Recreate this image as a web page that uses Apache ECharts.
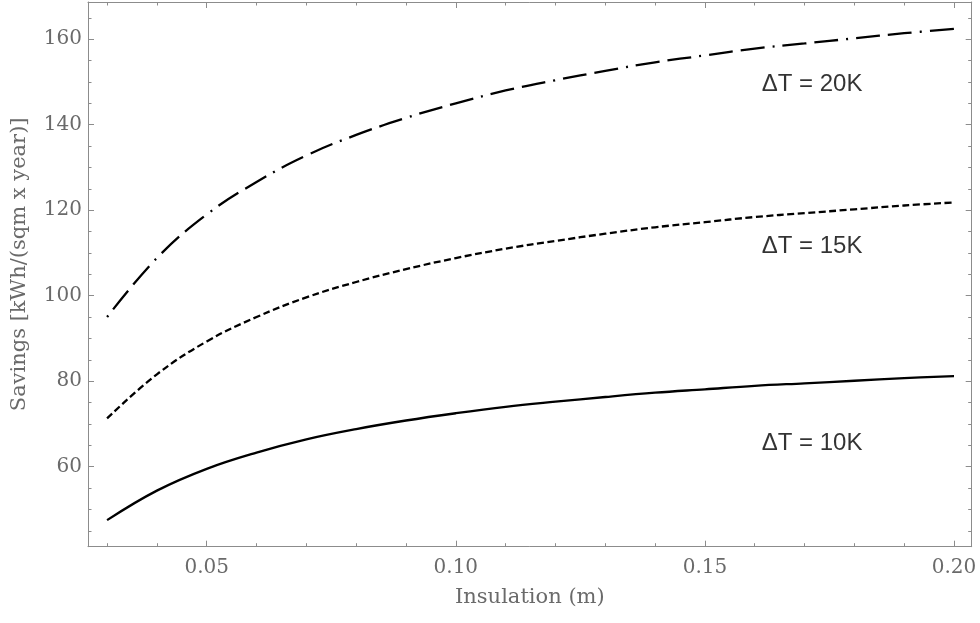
<!DOCTYPE html>
<html>
<head>
<meta charset="utf-8">
<script src="https://cdn.jsdelivr.net/npm/echarts@6/dist/echarts.min.js"></script>
<style>
html,body{margin:0;padding:0;background:#fff;}
#chart{width:980px;height:623px;}
</style>
</head>
<body>
<div id="chart"></div>
<script>
// Insulation thickness (m)
const insulation = [0.03,0.04,0.05,0.06,0.07,0.08,0.09,0.10,0.11,0.12,0.13,0.14,0.15,0.16,0.17,0.18,0.19,0.20];
// Savings [kWh/(sqm x year)]
const savings10K = [47.5,54.4,59.5,63.3,66.4,68.8,70.8,72.5,74.0,75.2,76.3,77.3,78.1,78.9,79.5,80.1,80.7,81.2];
const savings15K = [71.3,81.6,89.3,95.0,99.6,103.2,106.2,108.8,111.0,112.8,114.5,116.0,117.2,118.4,119.3,120.2,121.1,121.8];
const savings20K = [95.0,108.8,119.0,126.6,132.8,137.6,141.6,145.0,148.0,150.4,152.6,154.6,156.2,157.8,159.0,160.2,161.4,162.4];

// Curve annotations (anchor in data space)
const annotationText = ['ΔT = 20K','ΔT = 15K','ΔT = 10K'];
const annotationX = [0.1715,0.1715,0.1715];
const annotationY = [149.5,111.5,65.4];

// Axis ranges and ticks
const xMin = 0.02617, xMax = 0.20355;
const yMin = 41.28, yMax = 168.7;
const xMajorTicks = [0.05,0.10,0.15,0.20];
const xMinorTicks = [0.03,0.04,0.06,0.07,0.08,0.09,0.11,0.12,0.13,0.14,0.16,0.17,0.18,0.19];
const yMajorTicks = [60,80,100,120,140,160];
const yMinorTicks = [45,50,55,65,70,75,85,90,95,105,110,115,125,130,135,145,150,155,165];

const frameColor = '#8c8c8c';
const labelColor = '#6a6a6a';
const serif = 'DejaVu Serif';

function pairs(ys){ return insulation.map((x,i)=>[x, ys[i]]); }

function xAx(pos, ticks, len, showLine, showLabel, extra){
  return Object.assign({
    type:'value', min:xMin, max:xMax, position:pos,
    axisLine:{show:showLine, onZero:false, lineStyle:{color:frameColor,width:1}},
    axisTick:{show:true, inside:true, length:len, customValues:ticks, lineStyle:{color:frameColor,width:1}},
    axisLabel:{show:showLabel, customValues:ticks, margin:11, color:labelColor, fontFamily:serif, fontSize:20,
      formatter:v=>v.toFixed(2)},
    splitLine:{show:false}
  }, extra||{});
}
function yAx(pos, ticks, len, showLine, showLabel, extra){
  return Object.assign({
    type:'value', min:yMin, max:yMax, position:pos,
    axisLine:{show:showLine, onZero:false, lineStyle:{color:frameColor,width:1}},
    axisTick:{show:true, inside:true, length:len, customValues:ticks, lineStyle:{color:frameColor,width:1}},
    axisLabel:{show:showLabel, customValues:ticks, margin:6, color:labelColor, fontFamily:serif, fontSize:20},
    splitLine:{show:false}
  }, extra||{});
}

const chart = echarts.init(document.getElementById('chart'), null, {renderer:'canvas'});
chart.setOption({
  animation:false,
  backgroundColor:'#fff',
  grid:{left:88, right:8.3, top:2, bottom:76.3, containLabel:false},
  xAxis:[
    xAx('bottom', xMajorTicks, 6, true, true, {
      name:'Insulation (m)', nameLocation:'middle', nameGap:40, nameMoveOverlap:false,
      nameTextStyle:{color:labelColor, fontFamily:serif, fontSize:21}
    }),
    xAx('bottom', xMinorTicks, 3.5, false, false),
    xAx('top', xMajorTicks, 6, true, false),
    xAx('top', xMinorTicks, 3.5, false, false)
  ],
  yAxis:[
    yAx('left', yMajorTicks, 6, true, true, {
      name:'Savings [kWh/(sqm x year)]', nameLocation:'middle', nameGap:58, nameMoveOverlap:false,
      nameTextStyle:{color:labelColor, fontFamily:serif, fontSize:21, padding:[0,0,0,20]}
    }),
    yAx('left', yMinorTicks, 3.5, false, false),
    yAx('right', yMajorTicks, 6, true, false),
    yAx('right', yMinorTicks, 3.5, false, false)
  ],
  series:[
    {type:'line', name:'ΔT = 10K', data:pairs(savings10K), showSymbol:false, smooth:0.4,
     lineStyle:{color:'#000', width:2.3, type:'solid'}},
    {type:'line', name:'ΔT = 15K', data:pairs(savings15K), showSymbol:false, smooth:0.4,
     lineStyle:{color:'#000', width:2.3, type:[7,3.5], cap:'butt'}},
    {type:'line', name:'ΔT = 20K', data:pairs(savings20K), showSymbol:false, smooth:0.4,
     lineStyle:{color:'#000', width:2.3, type:[2,8,24,8,24,8], cap:'butt'}},
    {type:'scatter', silent:true, symbolSize:0,
     data:annotationText.map((t,i)=>({name:t, value:[annotationX[i], annotationY[i]]})),
     label:{show:true, position:'inside', formatter:p=>p.name, color:'#000', fontFamily:'Liberation Sans', fontSize:24}}
  ]
});
</script>
</body>
</html>
